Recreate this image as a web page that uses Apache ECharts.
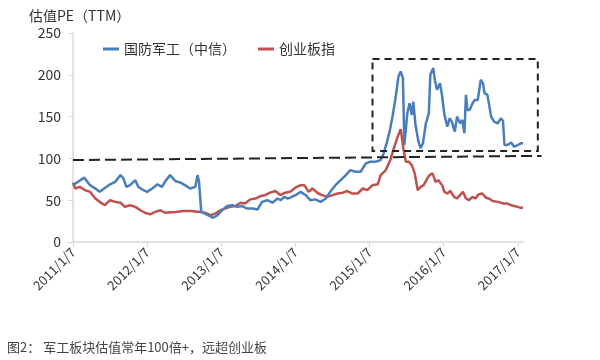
<!DOCTYPE html>
<html><head><meta charset="utf-8">
<script src="https://cdn.jsdelivr.net/npm/echarts@6/dist/echarts.min.js"></script>
<style>html,body{margin:0;padding:0;background:#fff}#c{width:600px;height:360px}</style>
</head><body><div id="c"></div>
<script>
// x values: years elapsed since 2011/1/7
const seriesNames = ['国防军工（中信）', '创业板指'];
const tickLabels = ['2011/1/7','2012/1/7','2013/1/7','2014/1/7','2015/1/7','2016/1/7','2017/1/7'];
const tickYears = [0,1,2,3,4,5,6];
const yTicks = [0,50,100,150,200,250];

const junT = [0.00,0.07,0.15,0.23,0.30,0.36,0.42,0.50,0.57,0.64,0.68,0.72,0.77,0.84,0.88,0.93,1.00,1.07,1.14,1.20,1.24,1.31,1.38,1.45,1.51,1.58,1.65,1.68,1.70,1.73,1.82,1.89,1.95,2.01,2.08,2.15,2.22,2.28,2.35,2.42,2.49,2.55,2.62,2.69,2.76,2.80,2.85,2.89,2.93,3.00,3.07,3.14,3.20,3.27,3.34,3.41,3.47,3.54,3.61,3.68,3.74,3.81,3.88,3.95,4.01,4.08,4.15,4.19,4.23,4.27,4.31,4.35,4.39,4.42,4.45,4.47,4.51,4.54,4.57,4.59,4.62,4.66,4.69,4.72,4.76,4.80,4.82,4.86,4.88,4.91,4.95,4.98,5.01,5.05,5.08,5.11,5.15,5.18,5.22,5.25,5.28,5.30,5.32,5.35,5.39,5.42,5.46,5.50,5.53,5.55,5.59,5.64,5.68,5.73,5.77,5.80,5.82,5.86,5.91,5.95,6.00,6.04,6.07];
const junV = [68,72,77,68,64,60,64,69,72,80,76,66,68,74,66,63,60,64,69,66,72,80,73,71,68,64,66,80,72,36,32,29,32,38,43,44,42,43,40,40,39,48,50,47,52,50,54,52,53,56,60,56,50,51,48,52,60,68,74,80,86,84,84,94,96,96,98,106,118,132,150,172,198,204,196,116,154,166,152,168,140,120,112,118,142,154,200,208,194,182,190,174,152,138,148,144,132,150,142,146,130,176,158,158,166,170,170,194,190,178,176,150,144,142,148,145,116,116,119,114,116,118,118];

const cybT = [0.00,0.03,0.09,0.16,0.23,0.30,0.36,0.43,0.50,0.57,0.64,0.70,0.77,0.84,0.91,0.97,1.04,1.11,1.18,1.24,1.38,1.49,1.58,1.72,1.78,1.85,1.92,1.99,2.05,2.12,2.19,2.26,2.32,2.39,2.46,2.53,2.59,2.66,2.73,2.80,2.86,2.93,3.00,3.07,3.12,3.18,3.23,3.31,3.36,3.43,3.50,3.57,3.64,3.70,3.77,3.84,3.91,3.97,4.04,4.11,4.15,4.22,4.28,4.32,4.38,4.42,4.46,4.49,4.53,4.57,4.61,4.65,4.69,4.73,4.78,4.81,4.85,4.89,4.93,4.98,5.01,5.05,5.09,5.14,5.18,5.23,5.26,5.30,5.34,5.39,5.43,5.47,5.52,5.57,5.61,5.66,5.73,5.81,5.86,5.91,5.95,6.00,6.04,6.07];
const cybV = [71,64,66,62,60,52,48,44,50,48,47,42,44,42,38,35,33,36,38,35,36,37,37,36,35,32,34,38,40,42,43,47,46,51,52,55,56,59,61,56,59,60,65,68,68,60,64,58,56,54,56,58,59,61,58,58,64,62,68,69,80,86,98,110,126,135,110,96,96,92,82,62,66,68,76,80,82,72,74,68,60,58,61,54,52,57,60,52,50,54,52,57,58,53,52,49,48,46,46,44,43,42,41,41];

// annotations (data units)
const thresholdLine = [[0, 98], [6.32, 103]];
const highlightBox = [[4.04, 219], [6.27, 109]];

const FONT = '"Noto Sans CJK SC", "Noto Sans", sans-serif';
const zip = (a, b) => a.map((t, i) => [t, b[i]]);

const chart = echarts.init(document.getElementById('c'), null, {renderer: 'canvas'});
chart.setOption({
  backgroundColor: '#fff',
  animation: false,
  textStyle: {fontFamily: FONT},
  title: {text: '估值PE（TTM）', left: 24, top: 4,
    textStyle: {fontSize: 14, fontWeight: 'normal', color: '#333', fontFamily: FONT}},
  legend: {left: 98, top: 37, itemWidth: 16, itemHeight: 3, itemGap: 22, icon: 'rect',
    textStyle: {fontSize: 14, color: '#333', fontFamily: FONT},
    data: seriesNames},
  grid: {left: 73, right: 77, top: 33, bottom: 118},
  xAxis: {type: 'value', min: 0, max: 6.07, interval: 1,
    splitLine: {show: false},
    axisLine: {show: true, lineStyle: {color: '#d9d9d9', width: 1.5}},
    axisTick: {show: true, length: 5, lineStyle: {color: '#d9d9d9'}, customValues: tickYears},
    axisLabel: {rotate: 45, fontSize: 13, color: '#333', margin: 8, fontFamily: FONT,
      customValues: tickYears,
      formatter: v => tickLabels[Math.round(v)] || ''}},
  yAxis: {type: 'value', min: 0, max: 250, interval: 50,
    splitLine: {show: false},
    axisLine: {show: true, lineStyle: {color: '#d9d9d9', width: 1.5}},
    axisTick: {show: true, length: 5, lineStyle: {color: '#d9d9d9'}},
    axisLabel: {fontSize: 14, color: '#333', margin: 12, fontFamily: FONT}},
  series: [
    {name: seriesNames[0], type: 'line', data: zip(junT, junV), showSymbol: false, symbol: 'none',
      color: '#4a7ebb', lineStyle: {width: 2.5, color: '#4a7ebb'}, z: 3},
    {name: seriesNames[1], type: 'line', data: zip(cybT, cybV), showSymbol: false, symbol: 'none',
      color: '#c0504d', lineStyle: {width: 2.5, color: '#c0504d'}, z: 2}
  ]
});

const px = p => chart.convertToPixel({gridIndex: 0}, p);
const l0 = px(thresholdLine[0]), l1 = px(thresholdLine[1]);
const b0 = px(highlightBox[0]), b1 = px(highlightBox[1]);
chart.setOption({
  graphic: [
    {type: 'line', shape: {x1: l0[0], y1: l0[1], x2: l1[0], y2: l1[1]},
      style: {stroke: '#222', lineWidth: 2, lineDash: [11, 5]}, z: 10},
    {type: 'rect', shape: {x: b0[0], y: b0[1], width: b1[0] - b0[0], height: b1[1] - b0[1]},
      style: {fill: 'none', stroke: '#222', lineWidth: 2, lineDash: [7, 5]}, z: 10},
    {type: 'text', left: 7, top: 341,
      style: {text: '图2： 军工板块估值常年100倍+，远超创业板', fontSize: 13, fill: '#444', fontFamily: FONT}}
  ]
});
</script>
</body></html>
